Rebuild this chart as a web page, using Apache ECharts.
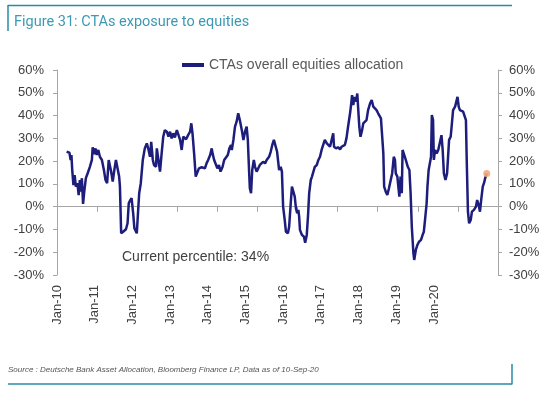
<!DOCTYPE html>
<html>
<head>
<meta charset="utf-8">
<script src="https://cdn.jsdelivr.net/npm/echarts@6/dist/echarts.min.js"></script>
<style>
  html, body { margin: 0; padding: 0; background: #fff; }
  #chart { width: 560px; height: 396px; }
</style>
</head>
<body>
<div id="chart"></div>
<script>
// 时间（小数年）和 CTA 股票配置（%）
var dates = [
	2010.24, 2010.31, 2010.34, 2010.36, 2010.38, 2010.41, 2010.44, 2010.47, 2010.51, 2010.54,
	2010.57, 2010.60, 2010.62, 2010.65, 2010.68, 2010.72, 2010.77, 2010.82, 2010.87, 2010.89,
	2010.92, 2010.96, 2010.99, 2011.03, 2011.07, 2011.12, 2011.17, 2011.21, 2011.25, 2011.29,
	2011.32, 2011.35, 2011.39, 2011.43, 2011.47, 2011.51, 2011.55, 2011.57, 2011.60, 2011.65,
	2011.72, 2011.76, 2011.79, 2011.82, 2011.86, 2011.90, 2011.93, 2011.99, 2012.02, 2012.05,
	2012.09, 2012.14, 2012.19, 2012.24, 2012.28, 2012.32, 2012.35, 2012.39, 2012.42, 2012.47,
	2012.49, 2012.53, 2012.57, 2012.61, 2012.65, 2012.69, 2012.74, 2012.78, 2012.82, 2012.86,
	2012.90, 2012.94, 2012.99, 2013.02, 2013.07, 2013.11, 2013.15, 2013.22, 2013.27, 2013.32,
	2013.35, 2013.38, 2013.42, 2013.46, 2013.50, 2013.54, 2013.61, 2013.65, 2013.69, 2013.73,
	2013.77, 2013.82, 2013.86, 2013.88, 2013.92, 2013.96, 2014.00, 2014.04, 2014.08, 2014.13,
	2014.17, 2014.21, 2014.26, 2014.30, 2014.34, 2014.36, 2014.40, 2014.44, 2014.48, 2014.52,
	2014.56, 2014.61, 2014.65, 2014.69, 2014.73, 2014.76, 2014.79, 2014.81, 2014.84, 2014.87,
	2014.91, 2014.94, 2014.98, 2015.02, 2015.06, 2015.10, 2015.14, 2015.19, 2015.23, 2015.27,
	2015.29, 2015.33, 2015.37, 2015.41, 2015.45, 2015.49, 2015.54, 2015.58, 2015.61, 2015.64,
	2015.68, 2015.71, 2015.76, 2015.79, 2015.83, 2015.86, 2015.89, 2015.93, 2015.96, 2015.99,
	2016.02, 2016.04, 2016.06, 2016.11, 2016.16, 2016.19, 2016.23, 2016.26, 2016.29, 2016.33,
	2016.36, 2016.39, 2016.43, 2016.48, 2016.52, 2016.56, 2016.60, 2016.64, 2016.68, 2016.73,
	2016.77, 2016.81, 2016.85, 2016.89, 2016.91, 2016.96, 2017.01, 2017.06, 2017.10, 2017.14,
	2017.18, 2017.22, 2017.26, 2017.31, 2017.34, 2017.36, 2017.39, 2017.42, 2017.46, 2017.49,
	2017.51, 2017.54, 2017.57, 2017.61, 2017.64, 2017.68, 2017.72, 2017.76, 2017.81, 2017.85,
	2017.89, 2017.93, 2017.97, 2018.01, 2018.05, 2018.08, 2018.11, 2018.14, 2018.16, 2018.20,
	2018.24, 2018.28, 2018.32, 2018.36, 2018.40, 2018.43, 2018.45, 2018.49, 2018.51, 2018.54,
	2018.57, 2018.60, 2018.62, 2018.66, 2018.70, 2018.75, 2018.79, 2018.82, 2018.85, 2018.89,
	2018.91, 2018.95, 2018.99, 2019.03, 2019.08, 2019.12, 2019.15, 2019.18, 2019.22, 2019.24,
	2019.27, 2019.30, 2019.33, 2019.35, 2019.38, 2019.40, 2019.43, 2019.47, 2019.51, 2019.55,
	2019.59, 2019.62, 2019.65, 2019.69, 2019.73, 2019.78, 2019.82, 2019.85, 2019.88, 2019.93,
	2019.97, 2019.99, 2020.02, 2020.05, 2020.09, 2020.13, 2020.17, 2020.20, 2020.22, 2020.25,
	2020.28, 2020.32, 2020.35, 2020.40, 2020.45, 2020.48, 2020.52, 2020.55, 2020.58, 2020.62,
	2020.65, 2020.68, 2020.72
];
var values = [
	24.1, 23.7, 20.5, 22.7, 16.1, 9.5, 13.9, 8.8, 10.3, 5.1,
	11.7, 6.6, 12.5, 1.2, 6.6, 12.5, 14.9, 17.5, 20.5, 26.1,
	23.1, 25.6, 22.7, 24.9, 21.9, 20.5, 16.1, 11.7, 10.3, 20.5,
	20.8, 15.4, 11.0, 16.1, 20.5, 20.8, 13.2, 8.8, -11.7, -11.0,
	-9.9, -7.3, 1.5, 2.6, 3.7, -2.9, -9.5, -11.7, -2.9, 5.9,
	10.3, 20.5, 25.6, 27.8, 25.2, 21.9, 28.5, 20.5, 18.3, 17.5,
	25.6, 20.5, 15.4, 23.4, 30.7, 33.6, 32.9, 30.7, 32.9, 30.0,
	32.2, 30.4, 33.6, 34.4, 29.3, 24.9, 30.7, 29.6, 31.4, 32.9,
	36.6, 32.2, 23.4, 13.2, 13.9, 16.8, 17.3, 17.9, 16.8, 19.0,
	20.5, 22.7, 25.6, 23.4, 20.5, 21.2, 16.8, 18.3, 15.4, 17.5,
	20.5, 19.7, 22.7, 25.6, 27.1, 24.9, 29.3, 35.1, 37.3, 41.0,
	38.0, 33.6, 29.3, 32.9, 35.1, 29.3, 16.1, 8.1, 5.9, 16.1,
	20.5, 17.5, 15.4, 16.1, 18.3, 17.5, 19.7, 19.0, 20.5, 21.2,
	21.9, 24.1, 27.1, 29.3, 28.5, 24.1, 16.1, 17.5, 15.4, 0.0,
	-5.8, -11.0, -11.7, -8.8, 1.5, 8.8, 8.1, 4.4, -0.7, -2.9,
	-1.4, -4.4, -10.2, -12.4, -13.2, -15.8, -12.4, -4.4, 5.9, 11.7,
	13.2, 12.5, 17.5, 18.3, 20.5, 21.9, 24.9, 27.1, 29.3, 27.8,
	27.1, 26.3, 27.1, 32.2, 26.3, 25.6, 26.1, 25.2, 26.3, 26.1,
	27.1, 30.0, 35.1, 41.0, 45.4, 49.0, 44.6, 48.2, 46.1, 49.7,
	43.9, 35.1, 30.7, 33.6, 36.6, 35.8, 38.0, 42.4, 45.4, 46.8,
	43.9, 44.6, 42.4, 41.0, 41.7, 38.8, 38.0, 23.4, 8.8, 6.6,
	5.1, 8.1, 8.8, 14.6, 21.9, 20.5, 14.6, 13.2, 9.5, 4.4,
	13.2, 5.9, 24.9, 22.7, 20.5, 17.5, 16.1, 5.9, -8.8, -20.4,
	-23.4, -19.0, -16.8, -15.4, -14.6, -12.4, -11.0, -5.8, 1.5, 8.8,
	16.1, 19.0, 21.9, 40.2, 38.0, 20.5, 24.9, 23.4, 24.9, 25.2,
	31.4, 24.9, 14.6, 11.7, 14.6, 29.3, 30.7, 31.4, 42.4, 43.9,
	43.2, 48.2, 43.9, 42.4, 43.2, 41.7, 41.0, 38.0, 20.5, -2.2,
	-7.3, -5.8, -2.2, -1.4, 0.0, 2.9, 0.7, -2.2, 2.9, 8.8,
	10.3, 12.5, 14.6
];
var tickLabels = ['Jan-10', 'Jan-11', 'Jan-12', 'Jan-13', 'Jan-14', 'Jan-15',
	'Jan-16', 'Jan-17', 'Jan-18', 'Jan-19', 'Jan-20'];
var seriesName = 'CTAs overall equities allocation';

var lineData = [];
for (var i = 0; i < dates.length; i++) {
	lineData.push([dates[i], values[i]]);
}
var lastPoint = [[dates[dates.length - 1], values[values.length - 1]]];

var chart = echarts.init(document.getElementById('chart'));
var axisFont = 'Liberation Sans, Arial, sans-serif';

// 左右两个百分比轴
function pctAxis(pos, margin) {
	return {
		type: 'value',
		position: pos,
		min: -30,
		max: 60,
		interval: 10,
		axisLine: { show: true, lineStyle: { color: '#a6a6a6', width: 1 } },
		axisTick: { show: true, length: 4, lineStyle: { color: '#a6a6a6' } },
		splitLine: { show: false },
		axisLabel: {
			formatter: '{value}%',
			color: '#404040',
			fontSize: 13,
			fontFamily: axisFont,
			margin: margin
		}
	};
}

chart.setOption({
	animation: false,
	backgroundColor: '#fff',
	legend: {
		data: [{ name: seriesName, icon: 'rect' }],
		left: 177,
		top: 53,
		itemWidth: 22,
		itemHeight: 4,
		textStyle: { color: '#595959', fontSize: 14, fontFamily: axisFont }
	},
	grid: { left: 57, right: 62, top: 70, bottom: 121 },
	xAxis: [
		{
			type: 'value',
			min: 2010,
			max: 2021,
			interval: 1,
			axisLine: { show: true, onZero: true, onZeroAxisIndex: 0, lineStyle: { color: '#a6a6a6' } },
			axisTick: { show: true, length: 5, lineStyle: { color: '#a6a6a6' } },
			axisLabel: { show: false },
			splitLine: { show: false }
		},
		{
			// 只用来放日期标签
			type: 'value',
			position: 'bottom',
			min: 0,
			max: 11.7,
			interval: 1,
			axisLine: { show: false, onZero: false },
			axisTick: { show: false },
			splitLine: { show: false },
			axisLabel: {
				rotate: 90,
				margin: 10,
				color: '#404040',
				fontSize: 13,
				fontFamily: axisFont,
				showMaxLabel: false,
				formatter: function (v) {
					return tickLabels[Math.round(v)] || '';
				}
			}
		}
	],
	yAxis: [pctAxis('left', 13), pctAxis('right', 11)],
	series: [
		{
			name: seriesName,
			type: 'line',
			xAxisIndex: 0,
			yAxisIndex: 0,
			data: lineData,
			showSymbol: false,
			color: '#1d1d7c',
			lineStyle: { color: '#1d1d7c', width: 2.5 }
		},
		{
			name: 'latest',
			type: 'scatter',
			xAxisIndex: 0,
			yAxisIndex: 0,
			data: lastPoint,
			symbolSize: 7,
			itemStyle: { color: '#f4a97a', opacity: 0.9 },
			z: 5
		}
	],
	graphic: [
		// 上方标题框线
		{ type: 'line', shape: { x1: 8, y1: 5.5, x2: 512, y2: 5.5 }, style: { stroke: '#2a8aa6', lineWidth: 1.5 } },
		{ type: 'line', shape: { x1: 8, y1: 5, x2: 8, y2: 31 }, style: { stroke: '#2a8aa6', lineWidth: 1.5 } },
		{
			type: 'text', left: 14, top: 15,
			style: { text: 'Figure 31: CTAs exposure to equities', fill: '#3b9ab2', font: '14.5px Roboto, sans-serif' }
		},
		{
			type: 'text', left: 122, top: 250,
			style: { text: 'Current percentile: 34%', fill: '#404040', font: '14px Liberation Sans, Arial, sans-serif' }
		},
		// 底部来源
		{
			type: 'text', left: 8, top: 366,
			style: {
				text: 'Source : Deutsche Bank Asset Allocation, Bloomberg Finance LP, Data as of 10-Sep-20',
				fill: '#555', font: 'italic 8px Liberation Sans, Arial, sans-serif'
			}
		},
		{ type: 'line', shape: { x1: 8, y1: 384, x2: 512, y2: 384 }, style: { stroke: '#2a8aa6', lineWidth: 1.5 } },
		{ type: 'line', shape: { x1: 512, y1: 364, x2: 512, y2: 384.5 }, style: { stroke: '#2a8aa6', lineWidth: 1.5 } }
	]
});
</script>
</body>
</html>
